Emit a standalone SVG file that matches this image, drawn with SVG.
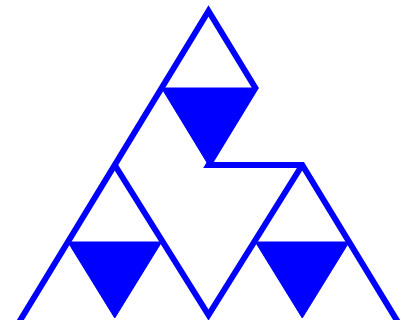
<svg xmlns="http://www.w3.org/2000/svg" width="409" height="326" viewBox="0 0 409 326">
  <defs>
    <style>
      .edge { fill: none; stroke: #0000ff; stroke-width: 6; stroke-linejoin: miter; stroke-miterlimit: 10; }
      .solid { fill: #0000ff; stroke: #0000ff; stroke-width: 1; }
    </style>
    <clipPath id="clip"><rect x="0" y="0" width="409" height="320"/></clipPath>
  </defs>
  <g id="connectors" clip-path="url(#clip)">
    <path class="edge" d="M16.7,326 L208.5,11 L255.4,88 L208.5,165 L302.25,165 L400.3,326"/>
    <path class="edge" d="M114.75,165 L208.5,315 L302.25,165"/>
  </g>
  <g id="top-fill">
    <polygon class="solid" points="161.6,88 255.4,88 208.5,165"/>
  </g>
  <g id="left-fill">
    <polygon class="solid" points="67.9,242 161.6,242 114.75,318"/>
  </g>
  <g id="right-fill">
    <polygon class="solid" points="255.4,242 349.1,242 302.25,318"/>
  </g>
</svg>
